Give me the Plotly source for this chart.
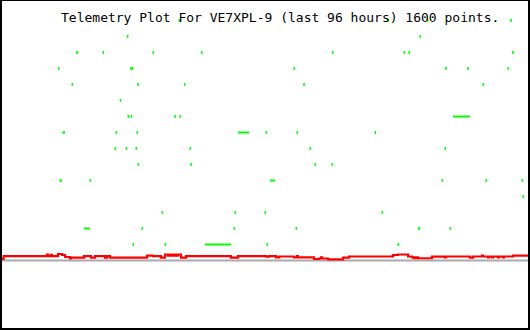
import plotly.graph_objects as go

TITLE = "Telemetry Plot For VE7XPL-9 (last 96 hours) 1600 points."

# x in hours (0..96), y in channel units (green levels are integers)
green_x = [32.36, 70.50, 77.69, 92.89,
           22.94, 76.34,
           18.49, 27.61, 36.45, 60.35, 73.42, 74.33, 93.26,
           10.35, 23.54, 23.82, 53.35, 81.03, 85.05, 92.40,
           12.83, 24.82, 33.34, 55.12, 87.84,
           21.63,
           23.05, 23.60, 31.63, 32.54,
           20.86, 24.69, 48.24, 53.89, 68.13,
           20.68, 22.69, 24.51, 34.37, 56.27, 80.90,
           24.88, 34.55, 57.18, 60.28,
           16.12, 80.36, 88.39, 94.96,
           95.14,
           29.26, 42.58, 48.05, 69.41,
           25.61, 42.40, 53.71, 81.82,
           23.96, 29.80, 48.42, 72.33]
green_y = [15, 15, 15, 15,
           14, 14,
           13, 13, 13, 13, 13, 13, 13,
           12, 12, 12, 12, 12, 12, 12,
           11, 11, 11, 11, 11,
           10,
           9, 9, 9, 9,
           8, 8, 8, 8, 8,
           7, 7, 7, 7, 7, 7,
           6, 6, 6, 6,
           5, 5, 5, 5,
           4,
           3, 3, 3, 3,
           2, 2, 2, 2,
           1, 1, 1, 1]

# wider (2px) green samples
green_wide_x = [13.69, 11.26, 10.71, 76.11]
green_wide_y = [13, 8, 5, 2]

# runs of consecutive green samples at one level
dash_start = [82.31, 43.07, 48.91, 14.97, 37.05]
dash_end = [85.41, 45.08, 49.82, 16.06, 41.79]
dash_level = [9, 8, 5, 2, 1]

red_x = [0.0, 0.3, 8.21, 8.40, 8.94, 9.13, 10.22, 10.95, 11.50, 12.41, 12.59,
         14.97, 16.24, 16.97, 18.80, 19.16, 19.71, 26.46, 27.56, 29.02, 29.75,
         30.30, 30.66, 31.03, 31.39, 31.76, 32.12, 32.67, 33.58, 41.79, 43.07,
         48.18, 48.73, 50.01, 50.56, 53.29, 53.84, 54.02, 56.94, 57.86, 58.22,
         58.40, 59.50, 62.24, 63.33, 71.36, 72.27, 74.10, 74.83, 75.19, 75.56,
         75.92, 78.48, 80.85, 81.03, 85.41, 85.96, 87.60, 87.79, 88.70, 88.88,
         89.43, 89.61, 90.52, 90.71, 91.44, 91.62, 93.26, 96.0]
red_y = [0.10, 0.27, 0.375, 0.27, 0.356, 0.27, 0.406, 0.344, 0.22, 0.125, 0.175,
         0.27, 0.175, 0.27, 0.175, 0.27, 0.175, 0.31, 0.27, 0.175, 0.375,
         0.31, 0.375, 0.31, 0.375, 0.31, 0.375, 0.175, 0.27, 0.175, 0.27,
         0.24, 0.27, 0.19, 0.25, 0.19, 0.27, 0.19, 0.094, 0.125, 0.19,
         0.125, 0.075, 0.175, 0.25, 0.344, 0.375, 0.25, 0.19, 0.14, 0.19,
         0.14, 0.24, 0.19, 0.25, 0.175, 0.25, 0.31, 0.25, 0.19, 0.25,
         0.19, 0.25, 0.19, 0.25, 0.19, 0.25, 0.30, 0.30]

gray_x = [0.0, 96.0]
gray_y = [0.0, 0.0]

W, H = 530, 330
px_per_hour = 526 / 96.0
x_pad = 2 / px_per_hour
x_range = [0 - x_pad, 96 + x_pad]
px_per_unit = 16.0
y_top = 260.5 / px_per_unit
y_bot = -(H - 260.5) / px_per_unit

GREEN = "#00ff00"

fig = go.Figure()
fig.add_trace(go.Scatter(x=gray_x, y=gray_y, mode="lines",
                         line=dict(color="#aaaaaa", width=2), hoverinfo="skip"))
fig.add_trace(go.Scatter(x=red_x, y=red_y, mode="lines",
                         line=dict(color="#ff0000", width=2.2, shape="hv")))

dx, dy = [], []
for s, e, l in zip(dash_start, dash_end, dash_level):
    dx += [s, e, None]
    dy += [l, l, None]
fig.add_trace(go.Scatter(x=dx, y=dy, mode="lines",
                         line=dict(color=GREEN, width=2)))
fig.add_trace(go.Scatter(x=green_x, y=green_y, mode="markers",
                         marker=dict(symbol="line-ns", size=2, color=GREEN,
                                     line=dict(color=GREEN, width=1.6))))
fig.add_trace(go.Scatter(x=green_wide_x, y=green_wide_y, mode="markers",
                         marker=dict(symbol="square", size=2.5, color=GREEN,
                                     line=dict(width=0))))

fig.add_shape(type="rect", xref="paper", yref="paper",
              x0=1 / W, x1=(W - 1) / W, y0=1 / H, y1=1,
              line=dict(color="black", width=2), fillcolor="rgba(0,0,0,0)")

fig.add_annotation(text=TITLE, xref="paper", yref="paper",
                   x=58.5 / W, y=1 - 17 / H, xanchor="left", yanchor="middle",
                   showarrow=False,
                   font=dict(family="DejaVu Sans Mono", size=13, color="black"))

fig.update_layout(width=W, height=H, margin=dict(l=0, r=0, t=0, b=0),
                  paper_bgcolor="white", plot_bgcolor="white",
                  showlegend=False)
fig.update_xaxes(range=x_range, visible=False, showgrid=False, zeroline=False)
fig.update_yaxes(range=[y_bot, y_top], visible=False, showgrid=False, zeroline=False)

fig.write_html("out.html", config={"displayModeBar": False})
